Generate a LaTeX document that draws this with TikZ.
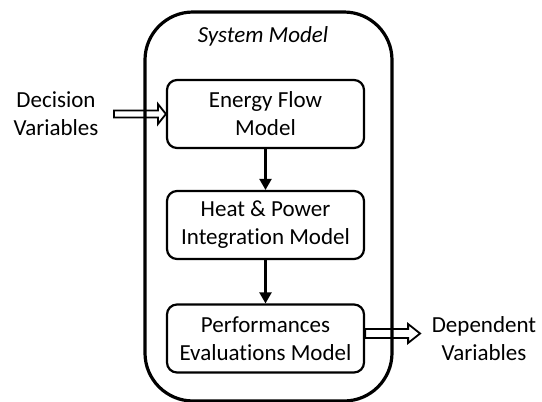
\documentclass[tikz,border=0pt]{standalone}
\usepackage{fontspec}
\setmainfont{Carlito}[Ligatures=NoCommon]
\usetikzlibrary{arrows.meta,calc}
\begin{document}
\begin{tikzpicture}[x=1pt,y=-1pt,
  txt/.style={font=\fontsize{23}{28}\selectfont, align=center, inner sep=0pt},
  modelbox/.style={draw, line width=2.2pt, rounded corners=10pt, minimum width=197pt, minimum height=68pt, align=center, inner sep=0pt, font=\fontsize{23}{28}\selectfont},
  flow/.style={line width=2.2pt, -{Triangle[length=11pt,width=12pt]}},
  hollow/.style={draw, line width=1.8pt, fill=white, line join=miter}
]
\useasboundingbox (0,0) rectangle (542,402);
% nodes
\node[modelbox] (b1) at (265.5,114) {Energy Flow\\Model};
\node[modelbox] (b2) at (265.5,225) {Heat \& Power\\Integration Model};
\node[modelbox] (b3) at (265.5,338.5) {Performances\\Evaluations Model};
\node[txt] (dec) at (56,114) {Decision\\Variables};
\node[txt] (dep) at (484,339) {Dependent\\Variables};
\node[txt, font=\fontsize{23}{28}\selectfont\itshape] (title) at (263,36) {System Model};
% hollow arrows
\coordinate (l0) at ($(b1.west)+(-52,0)$);
\draw[hollow] ($(l0)+(0,-3.5)$) -- ($(b1.west)+(-8,-3.5)$) -- ($(b1.west)+(-8,-10)$) -- (b1.west)
  -- ($(b1.west)+(-8,10)$) -- ($(b1.west)+(-8,3.5)$) -- ($(l0)+(0,3.5)$) -- cycle;
\coordinate (r0) at ($(b3.east)+(0,-5)$);
\coordinate (rt) at ($(r0)+(55,0)$);
\draw[hollow] ($(r0)+(0,-4.5)$) -- ($(rt)+(-12,-4.5)$) -- ($(rt)+(-12,-9.5)$) -- (rt)
  -- ($(rt)+(-12,9.5)$) -- ($(rt)+(-12,4.5)$) -- ($(r0)+(0,4.5)$) -- cycle;
% outer system box
\node[draw, line width=3.2pt, rounded corners=48pt, minimum width=247pt, minimum height=389pt, inner sep=0pt] (sys) at (268.5,206.5) {};
% flow arrows
\draw[flow] (b1.south) -- (b2.north);
\draw[flow] (b2.south) -- (b3.north);
\end{tikzpicture}
\end{document}
